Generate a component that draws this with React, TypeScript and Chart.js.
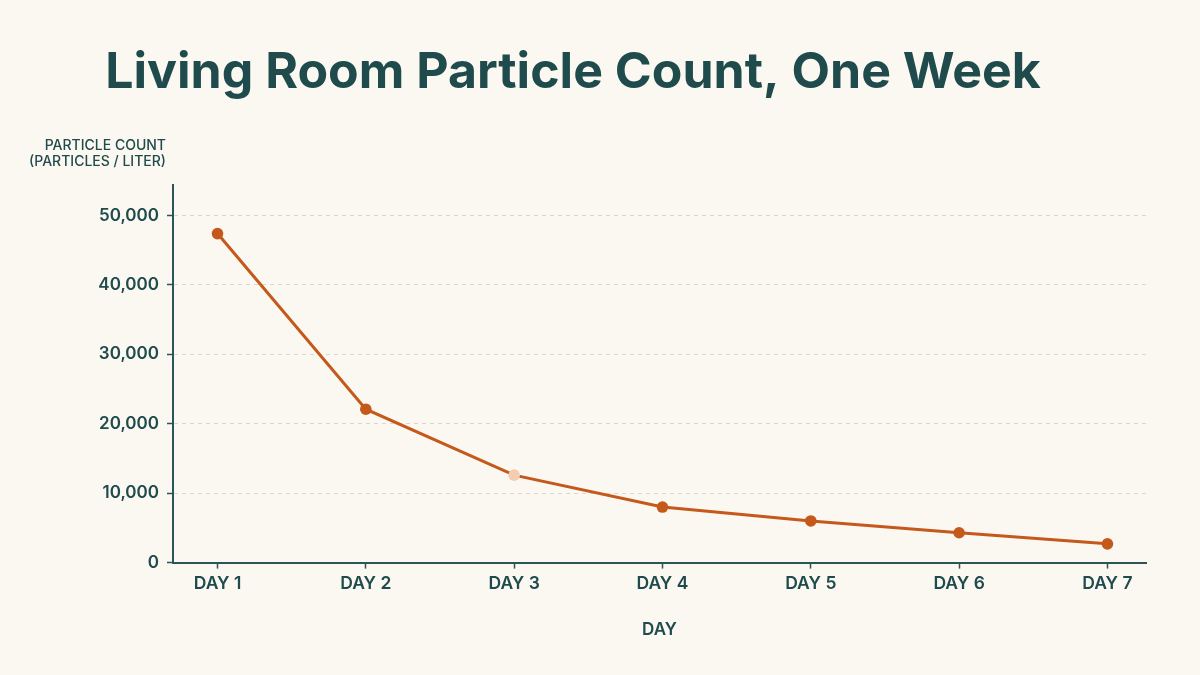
import { useEffect, useRef } from "react";
import { Chart, registerables } from "chart.js";
import type { Plugin } from "chart.js";

Chart.register(...registerables);

const dayLabels = ["DAY 1", "DAY 2", "DAY 3", "DAY 4", "DAY 5", "DAY 6", "DAY 7"];
const particleCounts = [47400, 22100, 12600, 8000, 6000, 4300, 2700];
const highlightedDay = "DAY 3";
const yTickValues = [0, 10000, 20000, 30000, 40000, 50000];
const yTitleLines = ["PARTICLE COUNT", "(PARTICLES / LITER)"];

const BG = "#fbf8f1";
const INK = "#1f4b4d";
const AXIS = "#2c5558";
const LINE = "#c4591b";
const SOFT = "#f2cdb0";
const FONT = "Inter, 'Noto Sans', sans-serif";

// two-line y axis title above the axis, right aligned
const yTitlePlugin: Plugin<"line"> = {
    id: "yTitle",
    afterDraw(chart) {
        const { ctx, chartArea } = chart;
        ctx.save();
        ctx.fillStyle = INK;
        ctx.font = `500 14px ${FONT}`;
        ctx.textAlign = "right";
        ctx.textBaseline = "middle";
        yTitleLines.forEach((line, i) => {
            ctx.fillText(line, chartArea.left - 7, chartArea.top - 39 + i * 16);
        });
        ctx.restore();
    },
};

export default function App() {
    const canvasRef = useRef<HTMLCanvasElement | null>(null);

    useEffect(() => {
        const canvas = canvasRef.current;
        if (!canvas) return;

        const points = particleCounts.map((v, i) => ({ x: i + 1, y: v }));
        const pointColors = dayLabels.map((d) => (d === highlightedDay ? SOFT : LINE));

        const chart = new Chart(canvas, {
            type: "line",
            data: {
                datasets: [
                    {
                        label: "Particle count",
                        data: points,
                        borderColor: LINE,
                        borderWidth: 3,
                        tension: 0,
                        pointRadius: 5.8,
                        pointBackgroundColor: pointColors,
                        pointBorderColor: pointColors,
                        pointBorderWidth: 0,
                    },
                ],
            },
            options: {
                responsive: false,
                animation: false,
                layout: { padding: { left: 0, right: 54, top: 0, bottom: 0 } },
                plugins: {
                    legend: { display: false },
                    tooltip: { enabled: false },
                    title: {
                        display: true,
                        text: "Living Room Particle Count, One Week",
                        color: INK,
                        font: { family: FONT, size: 50, weight: "bold" },
                        padding: { top: 43, bottom: 82 },
                    },
                },
                scales: {
                    x: {
                        type: "linear",
                        min: 0.7,
                        max: 7.26,
                        afterBuildTicks: (scale) => {
                            scale.ticks = dayLabels.map((_, i) => ({ value: i + 1 }));
                        },
                        ticks: {
                            color: INK,
                            padding: 5,
                            font: { family: FONT, size: 17.5, weight: 600 },
                            callback: (v) => dayLabels[Number(v) - 1] ?? "",
                        },
                        grid: {
                            display: true,
                            drawOnChartArea: false,
                            tickLength: 6,
                            tickColor: AXIS,
                            tickWidth: 1.5,
                        },
                        border: { display: true, color: AXIS, width: 2 },
                        title: {
                            display: true,
                            text: "DAY",
                            color: INK,
                            font: { family: FONT, size: 17, weight: 600 },
                            padding: { top: 20, bottom: 35 },
                        },
                    },
                    y: {
                        type: "linear",
                        min: 0,
                        max: 54400,
                        afterBuildTicks: (scale) => {
                            scale.ticks = yTickValues.map((v) => ({ value: v }));
                        },
                        afterFit: (scale) => {
                            scale.width = 173;
                        },
                        ticks: {
                            color: INK,
                            padding: 8,
                            font: { family: FONT, size: 17, weight: 600 },
                            callback: (v) => Number(v).toLocaleString("en-US"),
                        },
                        grid: {
                            color: "#dcd7cd",
                            lineWidth: 1,
                            tickLength: 6,
                            tickColor: AXIS,
                            tickWidth: 1.5,
                        },
                        border: { display: true, color: AXIS, width: 2, dash: [4, 4] },
                    },
                },
            },
            plugins: [yTitlePlugin],
        });

        return () => {
            chart.destroy();
        };
    }, []);

    return (
        <div style={{ position: "fixed", inset: 0, background: BG }}>
            <canvas ref={canvasRef} width={1200} height={675} style={{ display: "block" }} />
        </div>
    );
}
